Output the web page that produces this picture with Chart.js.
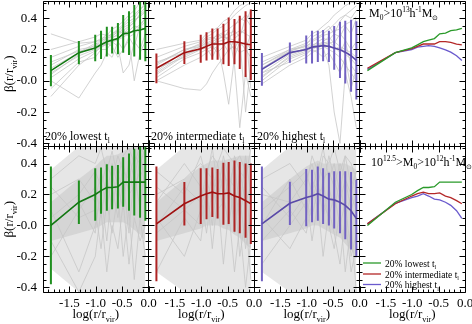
<!DOCTYPE html>
<html>
<head>
<meta charset="utf-8">
<script src="https://cdn.jsdelivr.net/npm/chart.js"></script>
<style>
  body { margin: 0; background: #fff; }
  #wrap { position: relative; width: 472px; height: 324px; }
  #wrap canvas { position: absolute; left: 0; top: 0; }
</style>
</head>
<body>
<div id="wrap"></div>
<script>
// radial bins, log(r/r_vir)
const radii = [-1.85, -1.32, -1.01, -0.90, -0.79, -0.69, -0.58, -0.48, -0.37, -0.27, -0.16, -0.06];

const xTicks = [-1.5, -1.0, -0.5, 0.0];
const xTickLabels = ['-1.5', '-1.0', '-0.5', '0.0'];
const yTicks = [-0.4, -0.2, 0, 0.2, 0.4];
const yTickLabels = ['-0.4', '-0.2', '-0.0', '0.2', '0.4'];

// M0 > 10^13 (top row)
const topLowMean  = [0.065, 0.18, 0.21, 0.23, 0.25, 0.26, 0.27, 0.30, 0.305, 0.32, 0.325, 0.335];
const topLowErr   = [0.10, 0.075, 0.085, 0.09, 0.095, 0.085, 0.10, 0.12, 0.14, 0.165, 0.19, 0.21];
const topMidMean  = [0.08, 0.18, 0.205, 0.22, 0.235, 0.235, 0.235, 0.25, 0.25, 0.245, 0.235, 0.23];
const topMidErr   = [0.095, 0.072, 0.09, 0.09, 0.10, 0.10, 0.13, 0.155, 0.145, 0.17, 0.21, 0.225];
const topHighMean = [0.073, 0.18, 0.20, 0.215, 0.22, 0.225, 0.22, 0.21, 0.198, 0.183, 0.16, 0.13];
const topHighErr  = [0.105, 0.065, 0.09, 0.105, 0.10, 0.10, 0.10, 0.14, 0.18, 0.20, 0.23, 0.25];

// 10^12.5 > M0 > 10^12 (bottom row)
const botLowMean  = [0.0, 0.15, 0.20, 0.225, 0.245, 0.245, 0.25, 0.28, 0.28, 0.28, 0.28, 0.28];
const botLowErr   = [0.38, 0.14, 0.17, 0.15, 0.15, 0.14, 0.14, 0.16, 0.185, 0.215, 0.23, 0.25];
const botMidMean  = [0.01, 0.14, 0.19, 0.205, 0.215, 0.205, 0.205, 0.21, 0.19, 0.18, 0.16, 0.14];
const botMidErr   = [0.37, 0.14, 0.18, 0.165, 0.16, 0.16, 0.20, 0.20, 0.23, 0.23, 0.24, 0.26];
const botHighMean = [0.01, 0.143, 0.18, 0.19, 0.205, 0.19, 0.17, 0.165, 0.15, 0.13, 0.095, 0.045];
const botHighErr  = [0.37, 0.14, 0.185, 0.17, 0.175, 0.18, 0.17, 0.185, 0.20, 0.22, 0.25, 0.25];

// individual haloes (grey)
const topLowGrey = [
  [0.30, 0.24, 0.25, 0.27, 0.28, 0.30, 0.32, 0.35, 0.38, 0.40, 0.45, 0.50],
  [0.05, 0.16, 0.20, 0.22, 0.23, 0.25, 0.26, 0.28, 0.30, 0.33, 0.36, 0.40],
  [-0.10, 0.10, 0.18, 0.22, 0.24, 0.26, 0.27, 0.30, 0.32, 0.35, 0.34, 0.38],
  [0.10, 0.20, 0.22, 0.25, 0.28, 0.30, 0.33, 0.36, 0.40, 0.42, 0.46, 0.48],
  [0.00, -0.11, 0.05, 0.10, 0.18, 0.15, 0.25, 0.20, 0.28, 0.30, 0.35, 0.32],
  [0.15, 0.22, 0.25, 0.26, 0.30, 0.28, 0.32, 0.30, 0.34, 0.38, 0.42, 0.45],
  [-0.05, 0.12, 0.15, 0.20, 0.20, 0.25, 0.22, 0.05, 0.10, 0.25, 0.20, 0.30],
  [0.08, 0.18, 0.24, 0.23, 0.26, 0.27, 0.30, 0.33, 0.28, 0.22, 0.35, 0.40],
  [0.02, 0.14, 0.19, 0.21, 0.24, 0.22, 0.15, 0.20, 0.26, 0.00, 0.18, 0.25],
  [0.20, 0.25, 0.28, 0.30, 0.29, 0.33, 0.35, 0.38, 0.42, 0.45, 0.50, 0.52],
  [0.12, 0.19, 0.21, 0.24, 0.27, 0.29, 0.31, 0.34, 0.36, 0.39, 0.41, 0.44],
  [0.04, 0.17, 0.23, 0.26, 0.27, 0.28, 0.29, 0.32, 0.35, 0.37, 0.43, 0.47]
];
const topMidGrey = [
  [0.15, 0.22, 0.25, 0.28, 0.30, 0.33, 0.35, 0.38, 0.42, 0.45, 0.48, 0.50],
  [0.05, 0.17, 0.20, 0.22, 0.24, 0.25, 0.26, 0.28, 0.30, 0.32, 0.30, 0.28],
  [0.00, -0.05, -0.06, -0.02, 0.05, 0.10, 0.15, 0.20, 0.22, 0.18, 0.20, 0.15],
  [0.10, 0.20, 0.22, 0.25, 0.20, 0.28, 0.30, 0.25, 0.35, 0.40, 0.38, 0.45],
  [0.12, 0.18, 0.22, 0.24, 0.26, 0.30, 0.27, 0.32, 0.10, -0.30, 0.05, -0.10],
  [0.02, 0.14, 0.18, 0.20, 0.22, 0.18, 0.22, 0.25, 0.20, 0.28, -0.20, 0.10],
  [0.20, 0.24, 0.26, 0.30, 0.32, 0.34, 0.38, 0.40, 0.45, 0.48, 0.50, 0.52],
  [0.08, 0.15, 0.20, 0.21, 0.15, 0.22, 0.24, 0.18, 0.27, 0.30, 0.33, -0.05],
  [0.06, 0.19, 0.24, 0.27, 0.28, 0.26, 0.29, 0.30, 0.32, 0.28, 0.40, 0.35],
  [0.00, 0.10, 0.15, 0.18, 0.20, 0.22, 0.05, -0.15, 0.15, 0.25, 0.20, 0.30],
  [0.11, 0.20, 0.23, 0.26, 0.27, 0.29, 0.31, 0.33, 0.36, 0.38, 0.42, 0.40],
  [0.04, 0.16, 0.21, 0.23, 0.25, 0.27, 0.28, 0.27, 0.26, 0.22, 0.25, 0.20]
];
const topHighGrey = [
  [0.10, 0.20, 0.24, 0.26, 0.28, 0.30, 0.33, 0.36, 0.40, 0.42, 0.45, 0.48],
  [0.00, 0.14, 0.18, 0.20, 0.22, 0.23, 0.24, 0.25, 0.22, 0.20, 0.18, 0.15],
  [0.15, 0.22, 0.26, 0.30, 0.32, 0.35, 0.38, 0.42, 0.45, 0.48, 0.50, 0.50],
  [0.05, 0.17, 0.21, 0.23, 0.24, 0.22, 0.20, 0.18, 0.15, 0.10, 0.05, 0.00],
  [-0.02, 0.10, 0.15, 0.18, 0.20, 0.21, 0.10, -0.20, -0.40, 0.05, -0.10, -0.30],
  [0.08, 0.18, 0.20, 0.22, 0.25, 0.27, 0.26, 0.30, 0.28, 0.35, 0.30, 0.40],
  [0.12, 0.20, 0.22, 0.24, 0.20, 0.25, 0.28, 0.24, 0.30, 0.26, 0.20, 0.25],
  [0.03, 0.15, 0.19, 0.21, 0.22, 0.24, 0.25, 0.22, 0.18, 0.25, 0.10, 0.05],
  [0.10, 0.19, 0.23, 0.28, 0.30, 0.32, 0.35, 0.30, 0.38, 0.42, 0.40, 0.45],
  [0.05, 0.12, 0.17, 0.20, 0.18, 0.15, 0.18, 0.12, 0.05, 0.15, -0.05, 0.08],
  [0.08, 0.19, 0.22, 0.25, 0.27, 0.29, 0.30, 0.32, 0.33, 0.36, 0.38, 0.41],
  [0.02, 0.16, 0.20, 0.22, 0.23, 0.25, 0.23, 0.20, 0.22, 0.17, 0.14, 0.10]
];
const botLowGrey = [
  [0.30, 0.45, 0.40, 0.50, 0.35, 0.48, 0.30, 0.45, 0.50, 0.40, 0.51, 0.45],
  [-0.20, 0.10, 0.25, 0.05, 0.30, 0.10, 0.35, 0.20, 0.40, 0.15, 0.45, 0.30],
  [0.10, -0.30, 0.00, 0.20, -0.10, 0.25, 0.05, 0.30, -0.05, 0.35, 0.10, 0.40],
  [0.20, 0.30, 0.15, 0.35, 0.20, 0.40, 0.25, 0.10, 0.45, 0.30, 0.50, 0.20],
  [-0.10, -0.43, -0.20, 0.10, -0.30, 0.00, -0.15, 0.15, -0.25, 0.05, -0.10, 0.00],
  [0.05, 0.20, 0.35, 0.25, 0.40, 0.30, 0.45, 0.35, 0.30, 0.45, 0.40, 0.50],
  [0.25, 0.05, 0.10, -0.15, 0.15, -0.05, 0.20, -0.20, 0.10, -0.35, 0.05, -0.20],
  [0.00, 0.15, -0.05, 0.30, 0.10, 0.35, 0.15, 0.40, 0.20, 0.25, 0.35, 0.30]
];
const botMidGrey = [
  [0.35, 0.20, 0.45, 0.30, 0.50, 0.25, 0.40, 0.15, 0.45, 0.35, 0.30, 0.50],
  [-0.30, 0.05, -0.10, 0.20, 0.00, 0.30, 0.10, 0.35, -0.05, 0.20, -0.15, 0.10],
  [0.15, 0.40, 0.25, 0.10, 0.35, 0.20, 0.45, 0.30, 0.25, 0.05, 0.30, -0.10],
  [0.05, -0.20, 0.10, 0.30, 0.15, 0.40, 0.20, 0.00, 0.25, -0.20, 0.05, -0.35],
  [0.20, 0.30, 0.40, 0.35, 0.45, 0.40, 0.50, 0.45, 0.40, 0.45, 0.35, 0.40],
  [-0.05, 0.10, 0.20, -0.05, 0.25, 0.10, 0.15, 0.30, 0.05, 0.35, 0.15, 0.25],
  [0.25, 0.10, 0.00, 0.25, -0.15, 0.20, -0.25, 0.10, -0.30, 0.00, -0.40, -0.10],
  [0.00, 0.25, 0.15, 0.35, 0.30, 0.15, 0.35, 0.25, 0.40, 0.10, 0.45, 0.20]
];
const botHighGrey = [
  [0.30, 0.40, 0.25, 0.45, 0.35, 0.50, 0.30, 0.40, 0.20, 0.45, 0.25, 0.35],
  [-0.25, 0.00, 0.15, 0.05, 0.25, 0.15, 0.05, 0.20, 0.00, 0.15, -0.20, -0.05],
  [0.10, 0.25, 0.35, 0.20, 0.40, 0.30, 0.35, 0.25, 0.40, 0.30, 0.20, 0.35],
  [0.05, -0.15, 0.05, 0.25, 0.10, 0.30, 0.00, -0.15, 0.10, -0.30, 0.00, -0.43],
  [0.20, 0.15, 0.30, 0.40, 0.25, 0.45, 0.40, 0.50, 0.35, 0.45, 0.40, 0.30],
  [-0.10, 0.10, -0.05, 0.15, 0.30, 0.05, 0.25, 0.10, 0.30, 0.05, 0.20, 0.10],
  [0.25, 0.05, 0.20, -0.10, 0.15, -0.20, 0.10, -0.05, -0.25, 0.05, -0.30, -0.15],
  [0.00, 0.30, 0.10, 0.30, 0.20, 0.25, 0.45, 0.30, 0.15, 0.30, 0.10, 0.20]
];

// envelope of the dense grey bundles in the bottom row
const botLowOuterLo  = [-0.28, -0.43, -0.43, -0.43, -0.43, -0.43, -0.43, -0.43, -0.43, -0.43, -0.43, -0.43];
const botLowOuterHi  = [0.36, 0.51, 0.51, 0.51, 0.51, 0.51, 0.51, 0.51, 0.51, 0.51, 0.51, 0.51];
const botLowInnerLo  = [-0.10, -0.05, -0.02, 0.00, 0.02, 0.02, 0.02, 0.02, 0.00, -0.03, -0.06, -0.10];
const botLowInnerHi  = [0.15, 0.30, 0.38, 0.42, 0.45, 0.45, 0.46, 0.48, 0.50, 0.51, 0.51, 0.51];
const botMidOuterLo  = [-0.30, -0.43, -0.43, -0.43, -0.43, -0.43, -0.43, -0.43, -0.43, -0.43, -0.43, -0.43];
const botMidOuterHi  = [0.36, 0.51, 0.51, 0.51, 0.51, 0.51, 0.51, 0.51, 0.51, 0.51, 0.51, 0.51];
const botMidInnerLo  = [-0.10, -0.05, -0.02, 0.00, 0.00, 0.00, -0.02, -0.03, -0.06, -0.08, -0.12, -0.15];
const botMidInnerHi  = [0.15, 0.30, 0.38, 0.40, 0.42, 0.42, 0.42, 0.43, 0.44, 0.45, 0.45, 0.45];
const botHighOuterLo = [-0.30, -0.43, -0.43, -0.43, -0.43, -0.43, -0.43, -0.43, -0.43, -0.43, -0.43, -0.43];
const botHighOuterHi = [0.36, 0.51, 0.51, 0.51, 0.51, 0.51, 0.51, 0.51, 0.51, 0.51, 0.51, 0.51];
const botHighInnerLo = [-0.10, -0.05, -0.02, 0.00, 0.00, -0.02, -0.04, -0.06, -0.08, -0.12, -0.16, -0.20];
const botHighInnerHi = [0.15, 0.30, 0.38, 0.40, 0.42, 0.40, 0.40, 0.40, 0.40, 0.40, 0.38, 0.36];

const groupLabels = ['20% lowest t', '20% intermediate t', '20% highest t'];

Chart.defaults.font.family = '"Liberation Serif", serif';
Chart.defaults.color = '#000';

const colEdges = [43, 148.5, 254, 359.5, 465];
const rowEdges = [1, 146.5, 292];
const rowRange = [[-0.42, 0.51], [-0.43, 0.51]];

const greens = {line: '#137813', bar: '#1f8f1f', sum: '#2a9a2a'};
const reds = {line: '#a01212', bar: '#ae2424', sum: '#b42828'};
const purples = {line: '#5a4aa8', bar: '#7262c2', sum: '#6a5acd'};
const grey = '#c6c6c6';

const pts = arr => radii.map((x, i) => ({x, y: arr[i]}));

function greyLines(list) {
  return list.map(a => ({data: pts(a), borderColor: grey, borderWidth: 0.8, fill: false, order: 3, clip: 0}));
}
function band(lo, hi, color) {
  return [
    {data: pts(lo), borderWidth: 0, borderColor: 'transparent', fill: false, order: 5, clip: 0},
    {data: pts(hi), borderWidth: 0, borderColor: 'transparent', fill: '-1', backgroundColor: color, order: 5, clip: 0}
  ];
}
function errBars(mean, err, color) {
  return {
    type: 'bar',
    data: radii.map((x, i) => ({x, y: [mean[i] - err[i], mean[i] + err[i]]})),
    backgroundColor: color, barThickness: 2, maxBarThickness: 2, inflateAmount: 0, order: 1, clip: 0
  };
}
function meanLine(mean, color, w) {
  return {data: pts(mean), borderColor: color, borderWidth: w, fill: false, order: 0, clip: 0};
}

// text with sub/superscripts: parts = [[text, 'n'|'b'|'p'], ...]
function drawRich(ctx, x, y, parts, size, align) {
  const fontOf = k => (k === 'n' ? size : size * 0.62) + 'px "Liberation Serif"';
  let w = 0;
  parts.forEach(([t, k]) => { ctx.font = fontOf(k); w += ctx.measureText(t).width; });
  let cx = align === 'center' ? x - w / 2 : x;
  ctx.textAlign = 'left';
  ctx.textBaseline = 'alphabetic';
  ctx.fillStyle = '#000';
  parts.forEach(([t, k]) => {
    ctx.font = fontOf(k);
    const dy = k === 'b' ? size * 0.28 : k === 'p' ? -size * 0.4 : 0;
    ctx.fillText(t, cx, y + dy);
    cx += ctx.measureText(t).width;
  });
}

const framePlugin = {
  id: 'frame',
  afterDatasetsDraw(chart) {
    const {ctx, chartArea: a, scales: {x, y}} = chart;
    const L = Math.floor(a.left) + 0.5, R = Math.floor(a.right) + 0.5;
    const T = Math.floor(a.top) + 0.5, B = Math.floor(a.bottom) + 0.5;
    ctx.save();
    ctx.strokeStyle = '#000';
    ctx.lineWidth = 1;
    ctx.beginPath();
    ctx.rect(L, T, R - L, B - T);
    for (let i = 0; i <= 20; i++) {
      const px = Math.round(x.getPixelForValue(-2 + i * 0.1)) + 0.5;
      const len = i % 5 === 0 ? 6 : 3;
      ctx.moveTo(px, B); ctx.lineTo(px, B - len);
      ctx.moveTo(px, T); ctx.lineTo(px, T + len);
    }
    for (let i = -8; i <= 10; i++) {
      const py = Math.round(y.getPixelForValue(i * 0.05)) + 0.5;
      const len = i % 4 === 0 ? 6 : 3;
      ctx.moveTo(L, py); ctx.lineTo(L + len, py);
      ctx.moveTo(R, py); ctx.lineTo(R - len, py);
    }
    ctx.stroke();
    ctx.restore();
  }
};

const wrap = document.getElementById('wrap');

function panel(col, row, datasets, draw) {
  const cv = document.createElement('canvas');
  cv.width = 472;
  cv.height = 324;
  wrap.appendChild(cv);
  const left = colEdges[col], right = colEdges[col + 1];
  const top = rowEdges[row], bottom = rowEdges[row + 1];
  const tickFont = {family: '"Liberation Serif", serif', size: 13};
  return new Chart(cv, {
    type: 'line',
    data: {datasets},
    options: {
      responsive: false,
      animation: false,
      devicePixelRatio: 1,
      layout: {padding: {left: 0, top: top, right: 472 - right, bottom: 0}},
      elements: {point: {radius: 0}, line: {tension: 0}},
      plugins: {legend: {display: false}, tooltip: {enabled: false}, title: {display: false}},
      scales: {
        x: {
          type: 'linear', min: -2, max: 0, offset: false,
          grid: {display: false, drawTicks: false, offset: false}, border: {display: false},
          ticks: {display: row === 1, font: tickFont, padding: 4, maxRotation: 0, autoSkip: false,
                  callback: v => xTickLabels[xTicks.indexOf(v)]},
          afterBuildTicks: s => { s.ticks = xTicks.map(v => ({value: v})); },
          afterFit: s => { s.height = 324 - bottom; s.paddingLeft = 0; s.paddingRight = 0; }
        },
        y: {
          type: 'linear', min: rowRange[row][0], max: rowRange[row][1],
          grid: {display: false, drawTicks: false}, border: {display: false},
          ticks: {display: col === 0, font: tickFont, padding: 6,
                  callback: v => yTickLabels[yTicks.indexOf(v)]},
          afterBuildTicks: s => { s.ticks = yTicks.map(v => ({value: v})); },
          afterFit: s => { s.width = left; s.paddingTop = 0; s.paddingBottom = 0; }
        }
      }
    },
    plugins: [framePlugin, {id: 'notes', afterDraw: c => { if (draw) { c.ctx.save(); draw(c.ctx, c); c.ctx.restore(); } }}]
  });
}

function yTitle(ctx, cy) {
  ctx.translate(13, cy);
  ctx.rotate(-Math.PI / 2);
  drawRich(ctx, 0, 0, [['\u03b2(r/r', 'n'], ['vir', 'b'], [')', 'n']], 13, 'center');
}
function xTitle(ctx, c) {
  const a = c.chartArea;
  drawRich(ctx, (a.left + a.right) / 2, 318, [['log(r/r', 'n'], ['vir', 'b'], [')', 'n']], 13, 'center');
}

const rows = [
  {means: [topLowMean, topMidMean, topHighMean], errs: [topLowErr, topMidErr, topHighErr],
   greys: [topLowGrey, topMidGrey, topHighGrey]},
  {means: [botLowMean, botMidMean, botHighMean], errs: [botLowErr, botMidErr, botHighErr],
   greys: [botLowGrey, botMidGrey, botHighGrey],
   bands: [[botLowOuterLo, botLowOuterHi, botLowInnerLo, botLowInnerHi],
           [botMidOuterLo, botMidOuterHi, botMidInnerLo, botMidInnerHi],
           [botHighOuterLo, botHighOuterHi, botHighInnerLo, botHighInnerHi]]}
];
const palette = [greens, reds, purples];
const labelX = [45, 151, 257];

rows.forEach((r, row) => {
  for (let g = 0; g < 3; g++) {
    const ds = [meanLine(r.means[g], palette[g].line, 1.6), errBars(r.means[g], r.errs[g], palette[g].bar)];
    ds.push(...greyLines(r.greys[g]));
    if (r.bands) {
      const [olo, ohi, ilo, ihi] = r.bands[g];
      ds.push(...band(olo, ohi, 'rgba(200,200,200,0.45)'));
      ds.push(...band(ilo, ihi, 'rgba(200,200,200,0.55)'));
    }
    panel(g, row, ds, (ctx, c) => {
      if (row === 0) drawRich(ctx, labelX[g], 140, [[groupLabels[g], 'n'], ['l', 'b']], 12);
      if (row === 1) xTitle(ctx, c);
      if (g === 0) yTitle(ctx, (rowEdges[row] + rowEdges[row + 1]) / 2);
    });
  }
  // summary panel with the three means
  const sum = [0, 1, 2].map(g => meanLine(r.means[g], palette[g].sum, 1.3));
  panel(3, row, sum, (ctx, c) => {
    if (row === 0) {
      drawRich(ctx, 369, 17, [['M', 'n'], ['0', 'b'], ['>10', 'n'], ['13', 'p'], ['h', 'n'], ['-1', 'p'], ['M', 'n'], ['\u2299', 'b']], 12);
    } else {
      drawRich(ctx, 371, 166, [['10', 'n'], ['12.5', 'p'], ['>M', 'n'], ['0', 'b'], ['>10', 'n'], ['12', 'p'], ['h', 'n'], ['-1', 'p'], ['M', 'n'], ['\u2299', 'b']], 12);
      const ys = [263, 274, 284.5];
      for (let g = 0; g < 3; g++) {
        ctx.strokeStyle = palette[g].sum;
        ctx.lineWidth = 1.3;
        ctx.beginPath();
        ctx.moveTo(363, ys[g]); ctx.lineTo(381, ys[g]);
        ctx.stroke();
        drawRich(ctx, 385, ys[g] + 3.5, [[groupLabels[g], 'n'], ['l', 'b']], 9.5);
      }
      xTitle(ctx, c);
    }
  });
});
</script>
</body>
</html>
